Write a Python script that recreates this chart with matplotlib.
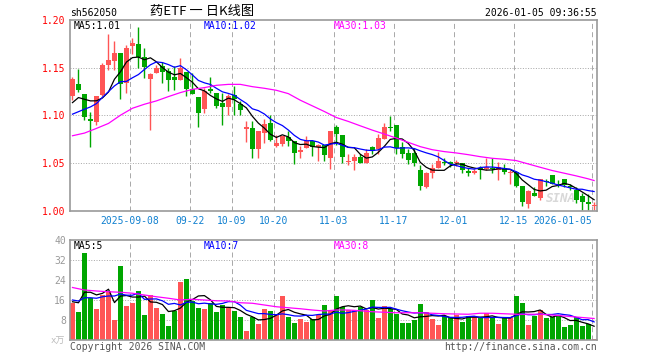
import matplotlib
matplotlib.use("Agg")
import matplotlib.pyplot as plt
import numpy as np
import pandas as pd

# ---- data (sh562050, daily K, 2025-08-25 .. 2026-01-05) ----
opens = [1.120, 1.133, 1.122, 1.096, 1.093, 1.121, 1.153, 1.157, 1.165, 1.134,
         1.173, 1.175, 1.161, 1.138, 1.145, 1.152, 1.147, 1.140, 1.137, 1.146,
         1.128, 1.119, 1.107, 1.128, 1.124, 1.113, 1.109, 1.121, 1.112, 1.086,
         1.087, 1.065, 1.082, 1.092, 1.068, 1.070, 1.078, 1.073, 1.062, 1.066,
         1.073, 1.067, 1.069, 1.056, 1.088, 1.080, 1.051, 1.052, 1.057, 1.050,
         1.067, 1.065, 1.075, 1.088, 1.090, 1.067, 1.061, 1.061, 1.043, 1.025,
         1.040, 1.045, 1.051, 1.051, 1.050, 1.050, 1.042, 1.040, 1.045, 1.044,
         1.045, 1.043, 1.045, 1.040, 1.041, 1.026, 1.007, 1.019, 1.014, 1.031,
         1.038, 1.028, 1.034, 1.026, 1.022, 1.016, 1.009, 1.005]
closes = [1.138, 1.127, 1.098, 1.094, 1.120, 1.153, 1.158, 1.165, 1.133, 1.171,
          1.176, 1.161, 1.151, 1.143, 1.150, 1.146, 1.137, 1.137, 1.150, 1.128,
          1.122, 1.103, 1.126, 1.126, 1.110, 1.109, 1.120, 1.117, 1.106, 1.088,
          1.065, 1.084, 1.091, 1.074, 1.071, 1.079, 1.073, 1.061, 1.064, 1.073,
          1.067, 1.069, 1.059, 1.084, 1.081, 1.057, 1.052, 1.057, 1.050, 1.061,
          1.063, 1.076, 1.088, 1.087, 1.066, 1.060, 1.053, 1.050, 1.026, 1.040,
          1.045, 1.052, 1.050, 1.049, 1.051, 1.043, 1.040, 1.042, 1.043, 1.046,
          1.044, 1.046, 1.041, 1.041, 1.026, 1.009, 1.021, 1.016, 1.033, 1.030,
          1.028, 1.027, 1.027, 1.025, 1.012, 1.009, 1.007, 1.006]
highs = [1.140, 1.149, 1.122, 1.104, 1.120, 1.155, 1.185, 1.178, 1.165, 1.174,
         1.181, 1.193, 1.171, 1.144, 1.153, 1.156, 1.150, 1.152, 1.160, 1.146,
         1.145, 1.119, 1.129, 1.140, 1.124, 1.124, 1.122, 1.131, 1.115, 1.094,
         1.094, 1.084, 1.096, 1.101, 1.080, 1.079, 1.084, 1.073, 1.068, 1.079,
         1.074, 1.070, 1.069, 1.084, 1.090, 1.080, 1.060, 1.060, 1.060, 1.065,
         1.068, 1.081, 1.092, 1.099, 1.090, 1.072, 1.065, 1.066, 1.048, 1.041,
         1.049, 1.062, 1.055, 1.052, 1.053, 1.050, 1.045, 1.044, 1.047, 1.056,
         1.055, 1.051, 1.049, 1.043, 1.042, 1.026, 1.022, 1.025, 1.033, 1.034,
         1.038, 1.032, 1.034, 1.028, 1.025, 1.019, 1.018, 1.009]
lows = [1.116, 1.125, 1.095, 1.067, 1.090, 1.120, 1.148, 1.148, 1.117, 1.124,
        1.164, 1.150, 1.139, 1.085, 1.145, 1.134, 1.126, 1.127, 1.137, 1.120,
        1.122, 1.088, 1.103, 1.124, 1.108, 1.090, 1.100, 1.101, 1.100, 1.072,
        1.055, 1.055, 1.071, 1.073, 1.067, 1.068, 1.068, 1.049, 1.056, 1.066,
        1.058, 1.052, 1.052, 1.044, 1.069, 1.050, 1.048, 1.043, 1.050, 1.050,
        1.060, 1.060, 1.075, 1.084, 1.060, 1.056, 1.049, 1.047, 1.022, 1.024,
        1.035, 1.045, 1.048, 1.046, 1.047, 1.040, 1.037, 1.039, 1.033, 1.043,
        1.040, 1.032, 1.039, 1.028, 1.025, 1.005, 1.003, 1.016, 1.012, 1.026,
        1.028, 1.025, 1.025, 1.022, 1.008, 1.001, 1.001, 1.001]
# volume in 万
volumes = [14.9, 11.3, 34.9, 16.7, 12.4, 18.0, 19.6, 8.1, 29.7, 13.6,
           14.9, 19.6, 10.0, 18.0, 12.9, 10.4, 5.6, 11.7, 23.3, 24.5,
           15.7, 12.9, 12.4, 14.9, 11.3, 14.0, 12.7, 11.7, 9.3, 3.7,
           9.1, 6.4, 12.4, 11.7, 10.0, 17.6, 9.3, 6.9, 8.5, 7.3,
           8.3, 10.0, 14.0, 11.7, 17.7, 13.1, 12.0, 12.0, 13.1, 12.0,
           16.0, 8.8, 13.6, 12.4, 10.4, 6.8, 6.8, 8.0, 14.4, 11.2,
           8.4, 6.0, 9.6, 9.1, 10.0, 7.3, 9.6, 9.7, 9.1, 10.8,
           9.1, 6.4, 8.8, 8.8, 17.6, 14.8, 6.0, 9.6, 12.0, 8.8,
           9.3, 9.6, 5.2, 6.0, 9.1, 5.6, 6.4, 0.4]

# moving-average values at the start of the window (history not on screen)
ma5_head = [1.1135, 1.1188, 1.117, 1.1153]
ma10_head = [1.1014, 1.104, 1.1066, 1.109, 1.1125, 1.119, 1.125, 1.131, 1.1354]
vma5_head = [15.3, 14.9, 19.1, 19.1]
vma10_head = [16.0, 15.6, 16.9, 16.9, 16.7, 17.3, 17.6, 17.6, 18.4]
# MA30 lines read every second day, plus the last day
ma30_days = list(range(0, 88, 2)) + [87]
ma30 = [1.0788, 1.0816, 1.0865, 1.0917, 1.1003, 1.1076, 1.1118, 1.1153, 1.1198, 1.1240,
        1.1274, 1.1292, 1.1316, 1.1326, 1.1326, 1.1302, 1.1285, 1.1264, 1.1229, 1.1160,
        1.1101, 1.1042, 1.0979, 1.0938, 1.0892, 1.0847, 1.0806, 1.0764, 1.0719, 1.0674,
        1.0642, 1.0622, 1.0608, 1.0590, 1.0569, 1.0552, 1.0542, 1.0528, 1.0493, 1.0458,
        1.0424, 1.0396, 1.0368, 1.0337, 1.0319]
vma30 = [21.0, 20.0, 19.6, 19.3, 19.1, 18.7, 18.0, 17.3, 16.7, 16.0,
         16.3, 16.0, 15.7, 15.6, 14.9, 14.7, 14.0, 13.3, 12.9, 12.5,
         12.0, 11.6, 12.0, 12.0, 11.7, 11.3, 11.1, 10.9, 10.9, 10.9,
         10.7, 10.5, 10.4, 10.3, 10.7, 10.7, 10.5, 10.3, 10.3, 10.3,
         10.0, 9.6, 9.2, 8.8, 8.6]

date_labels = ['2025-09-08', '09-22', '10-09', '10-20', '11-03', '11-17', '12-01', '12-15', '2026-01-05']
date_days = [10, 20, 27, 34, 44, 54, 64, 74, 87]
price_ticks = [1.00, 1.05, 1.10, 1.15, 1.20]
vol_ticks = [8, 16, 24, 32, 40]

RED = '#ff5555'
GREEN = '#00a600'
GRID = '#aaaaaa'
BORDER = '#999999'

plt.rcParams['font.family'] = ['DejaVu Sans Mono', 'Noto Sans CJK SC']

W, H = 660, 360
fig = plt.figure(figsize=(6.6, 3.6), dpi=100)


def px_axes(x0, y0, x1, y1):
    return fig.add_axes([x0 / W, 1 - y1 / H, (x1 - x0) / W, (y1 - y0) / H])


def ftext(x, y, s, **kw):
    fig.text(x / W, 1 - y / H, s, **kw)


n = len(closes)
days = np.arange(n)
o = np.array(opens)
c = np.array(closes)
up = c >= o
cols = np.where(up, RED, GREEN)

ma5 = pd.Series(c).rolling(5).mean().to_numpy()
ma5[:4] = ma5_head
ma10 = pd.Series(c).rolling(10).mean().to_numpy()
ma10[:9] = ma10_head
v = pd.Series(volumes)
vma5 = v.rolling(5).mean().to_numpy()
vma5[:4] = vma5_head
vma10 = v.rolling(10).mean().to_numpy()
vma10[:9] = vma10_head

left_pad = 2.5 / 6  # candle centre sits 2.5px right of its slot edge
xlim = (-left_pad, n - left_pad - 0.6 / 6)

ax1 = px_axes(70, 20, 597, 211)
ax2 = px_axes(70, 240, 597, 340)

for ax in (ax1, ax2):
    ax.set_xlim(*xlim)
    for s in ax.spines.values():
        s.set_color(BORDER)
        s.set_linewidth(1.2)
    ax.set_xticks([])
    ax.tick_params(axis='y', length=0, pad=3, labelsize=7)
    for d in date_days:
        ax.axvline(d - left_pad, color=GRID, lw=0.72, ls=(0, (5, 3.3)), zorder=0)

# ---- price panel ----
for yv in price_ticks[1:-1]:
    ax1.axhline(yv, color=GRID, lw=0.72, ls=(0, (1, 1.6)), zorder=0)
ax1.vlines(days, lows, highs, colors=cols, lw=1, zorder=2)
body_lo = np.minimum(o, c)
body_h = np.maximum(np.abs(c - o), 0.0011)
ax1.bar(days, body_h, bottom=body_lo, width=0.83, color=cols, linewidth=0, zorder=3)
ax1.plot(days, ma5, color='black', lw=0.9, zorder=4)
ax1.plot(days, ma10, color='#0000ff', lw=0.9, zorder=4)
ax1.plot(ma30_days, ma30, color='#ff00ff', lw=0.9, zorder=4)
ax1.set_ylim(1.0, 1.2)
ax1.set_yticks(price_ticks)
ax1.set_yticklabels(['%.2f' % t for t in price_ticks], color='red')
ax1.text(81.5, 1.013, 'SINA', color='#d8d8d8', fontsize=9, fontweight='bold',
         style='italic', ha='center', va='center', zorder=1)

for d, lab in zip(date_days, date_labels):
    ha = 'right' if d == date_days[-1] else 'center'
    ax1.text(d - left_pad, -0.052, lab, transform=ax1.get_xaxis_transform(),
             ha=ha, va='center', color='#1080d0', fontsize=7)

# ---- volume panel ----
for yv in vol_ticks[:-1]:
    ax2.axhline(yv, color=GRID, lw=0.72, ls=(0, (1, 1.6)), zorder=0)
ax2.bar(days, volumes, width=0.83, color=cols, linewidth=0, zorder=2)
ax2.plot(days, vma5, color='black', lw=0.9, zorder=4)
ax2.plot(days, vma10, color='#0000ff', lw=0.9, zorder=4)
ax2.plot(ma30_days, vma30, color='#ff00ff', lw=0.9, zorder=4)
ax2.set_ylim(0, 40)
ax2.set_yticks(vol_ticks)
ax2.set_yticklabels([str(t) for t in vol_ticks], color=BORDER)

# ---- texts ----
ftext(70, 13, 'sh562050', fontsize=7, va='center')
ftext(150, 12, '药ETF 一 日K线图', fontsize=9.5, va='center', family=['Noto Sans CJK SC'])
ftext(597, 13, '2026-01-05 09:36:55', fontsize=7, va='center', ha='right')

ftext(74, 26, 'MA5:1.01', fontsize=7, va='center', color='black')
ftext(204, 26, 'MA10:1.02', fontsize=7, va='center', color='#0000ff')
ftext(334, 26, 'MA30:1.03', fontsize=7, va='center', color='#ff00ff')
ftext(74, 246, 'MA5:5', fontsize=7, va='center', color='black')
ftext(204, 246, 'MA10:7', fontsize=7, va='center', color='#0000ff')
ftext(334, 246, 'MA30:8', fontsize=7, va='center', color='#ff00ff')

ftext(65, 341, 'x万', fontsize=6.5, va='center', ha='right', color='#bbbbbb')
ftext(70, 347, 'Copyright 2026 SINA.COM', fontsize=7, va='center', color='#555555')
ftext(597, 347, 'http://finance.sina.com.cn', fontsize=7, va='center', ha='right', color='#555555')

fig.savefig('out.png', dpi=100)
